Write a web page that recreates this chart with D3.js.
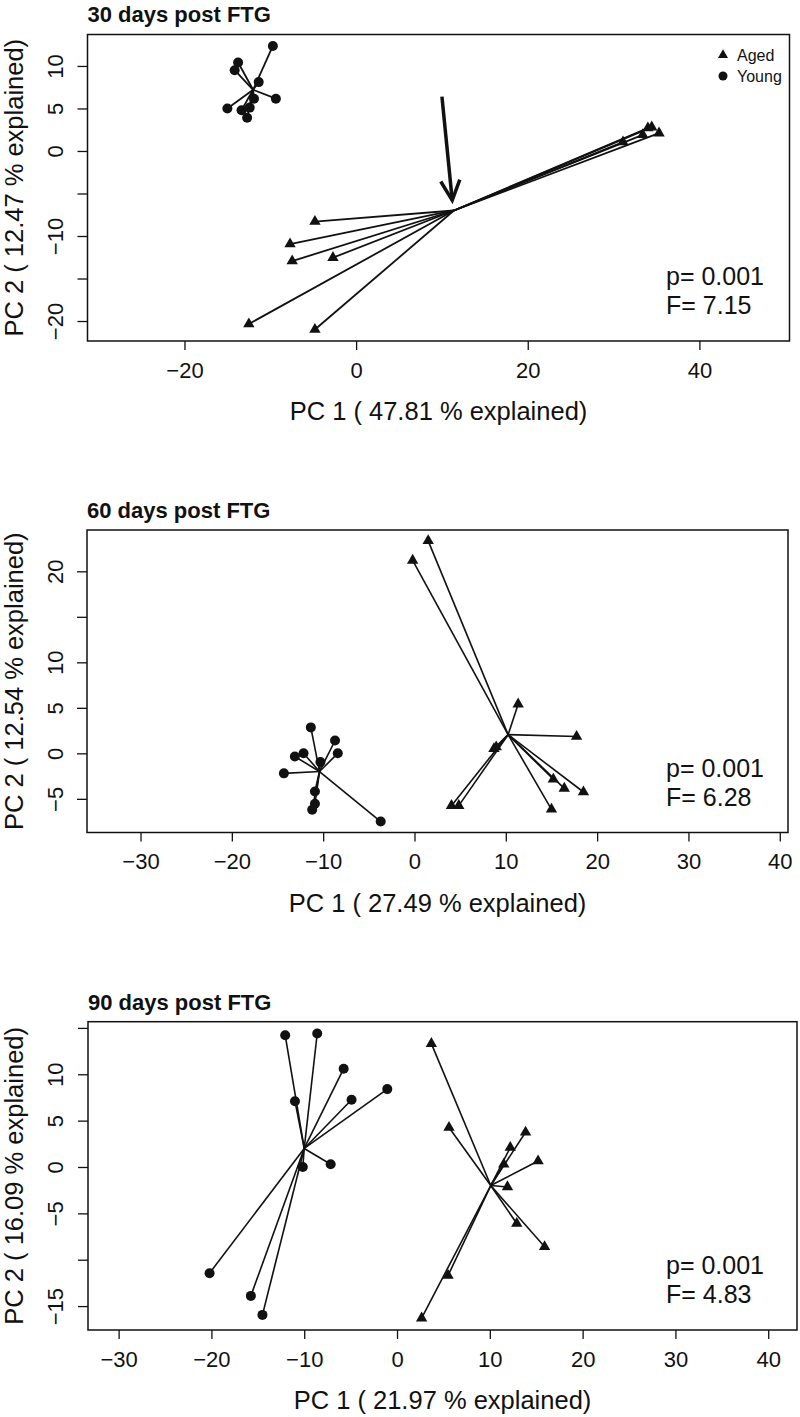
<!DOCTYPE html>
<html><head><meta charset="utf-8">
<script src="https://cdn.jsdelivr.net/npm/d3@7"></script>
<style>
body{margin:0;background:#fff}
svg{display:block}
text{font-family:"Liberation Sans",Arial,Helvetica,sans-serif;fill:#111}
</style>
</head><body>
<svg id="chart" width="800" height="1417"></svg>
<script>
// ---------- DATA ----------
const groups = ["Aged", "Young"];
const panelTitles = ["30 days post FTG", "60 days post FTG", "90 days post FTG"];
const xAxisTitles = ["PC 1 ( 47.81 % explained)", "PC 1 ( 27.49 % explained)", "PC 1 ( 21.97 % explained)"];
const yAxisTitles = ["PC 2 ( 12.47 % explained)", "PC 2 ( 12.54 % explained)", "PC 2 ( 16.09 % explained)"];
const pValues = ["0.001", "0.001", "0.001"];
const fValues = ["7.15", "6.28", "4.83"];

// 30 days
const aged30 = [[-4.8,-8.3],[-7.7,-10.95],[-7.45,-12.95],[-2.7,-12.55],[-12.5,-20.35],[-4.8,-21.0],
                [34.0,2.7],[34.45,2.8],[35.3,2.1],[33.4,1.9],[31.1,1.05]];
const young30 = [[-9.7,12.35],[-13.75,10.4],[-14.15,9.5],[-11.35,8.1],[-9.35,6.15],[-11.9,6.15],
                 [-15.0,5.0],[-13.35,4.8],[-12.4,5.1],[-12.7,3.9]];
const centroids30 = [[11.4,-7.0],[-12.0,7.2]];
const arrow30 = [[10.0,6.4],[11.2,-5.8]];

// 60 days
const aged60 = [[1.5,23.35],[-0.2,21.2],[11.35,5.4],[17.75,1.85],[8.7,0.5],[8.95,0.7],[15.2,-2.85],
                [16.4,-3.85],[18.5,-4.25],[15.0,-6.15],[4.05,-5.75],[4.85,-5.75]];
const young60 = [[-11.35,2.85],[-8.7,1.4],[-8.4,0.0],[-12.15,0.0],[-13.1,-0.35],[-10.3,-0.95],
                 [-14.3,-2.2],[-10.9,-4.2],[-10.9,-5.55],[-11.2,-6.2],[-3.7,-7.5]];
const centroids60 = [[10.25,2.05],[-10.4,-2.0]];

// 90 days
const aged90 = [[3.7,13.3],[5.6,4.25],[13.85,3.75],[12.2,2.1],[15.2,0.65],[11.5,0.3],[11.9,-2.15],
                [12.9,-6.1],[15.9,-8.6],[5.5,-11.7],[2.65,-16.3]];
const young90 = [[-12.05,14.2],[-8.6,14.4],[-5.75,10.6],[-1.05,8.4],[-4.9,7.25],[-11.0,7.1],
                 [-7.15,0.3],[-10.15,0.0],[-20.2,-11.45],[-15.75,-13.9],[-14.5,-15.95]];
const centroids90 = [[10.1,-2.0],[-10.0,2.0]];

// ticks
const xTicks30 = [-20, 0, 20, 40];
const xTicks60 = [-30, -20, -10, 0, 10, 20, 30, 40];
const xTicks90 = [-30, -20, -10, 0, 10, 20, 30, 40];
const yTicks30 = [-20, -15, -10, -5, 0, 5, 10];
const yLabels30 = [-20, -10, 0, 5, 10];
const yTicks60 = [-5, 0, 5, 10, 15, 20];
const yLabels60 = [-5, 0, 5, 10, 20];
const yTicks90 = [-15, -10, -5, 0, 5, 10, 15];
const yLabels90 = [-15, -5, 0, 5, 10];

// axis limits
const xLim30 = [-31.3, 50.5], yLim30 = [-22.35, 13.7];
const xLim60 = [-35.86, 40.9], yLim60 = [-8.7, 24.54];
const xLim90 = [-33.3, 43.1], yLim90 = [-17.58, 15.67];

// ---------- LAYOUT ----------
const panels = [
  {aged: aged30, young: young30, cent: centroids30, xl: xLim30, yl: yLim30, xt: xTicks30, yt: yTicks30, yLab: yLabels30,
   box: {l: 87.5, r: 789.5, t: 34.5, b: 341}, legend: true, arrow: arrow30, lw: 1.8},
  {aged: aged60, young: young60, cent: centroids60, xl: xLim60, yl: yLim60, xt: xTicks60, yt: yTicks60, yLab: yLabels60,
   box: {l: 87, r: 788, t: 530, b: 832.5}, legend: false, lw: 1.6},
  {aged: aged90, young: young90, cent: centroids90, xl: xLim90, yl: yLim90, xt: xTicks90, yt: yTicks90, yLab: yLabels90,
   box: {l: 88, r: 797, t: 1021.7, b: 1330}, legend: false, lw: 1.6}
];

const svg = d3.select("#chart");
svg.append("rect").attr("width", 800).attr("height", 1417).attr("fill", "#fff");

const fmt = v => (v < 0 ? "\u2212" + Math.abs(v) : String(v));
const triSym = d3.symbol().type(d3.symbolTriangle).size(56);
const TICK_FS = 22, LAB_FS = 25.5, TITLE_FS = 22, STAT_FS = 25;

panels.forEach((p, i) => {
  const b = p.box;
  const x = d3.scaleLinear().domain(p.xl).range([b.l, b.r]);
  const y = d3.scaleLinear().domain(p.yl).range([b.b, b.t]);
  const g = svg.append("g");

  // x axis
  const xa = g.append("g").attr("transform", `translate(0,${b.b})`)
    .call(d3.axisBottom(x).tickValues(p.xt).tickSize(9).tickPadding(0).tickFormat(fmt));
  xa.select(".domain").remove();
  xa.selectAll(".tick line").attr("stroke", "#111").attr("stroke-width", 1.3);
  xa.selectAll(".tick text").attr("font-size", TICK_FS).attr("fill", "#111")
    .attr("font-family", "Liberation Sans, Arial, sans-serif")
    .attr("y", 29).attr("dy", "0.36em");

  // y axis
  const ya = g.append("g").attr("transform", `translate(${b.l},0)`)
    .call(d3.axisLeft(y).tickValues(p.yt).tickSize(10).tickFormat(v => p.yLab.includes(v) ? fmt(v) : ""));
  ya.select(".domain").remove();
  ya.selectAll(".tick line").attr("stroke", "#111").attr("stroke-width", 1.3);
  ya.selectAll(".tick text").attr("font-size", TICK_FS).attr("fill", "#111")
    .attr("font-family", "Liberation Sans, Arial, sans-serif")
    .attr("x", null).attr("dy", null)
    .attr("text-anchor", "middle")
    .attr("transform", `translate(${55 + 0.36 * TICK_FS - b.l},0) rotate(-90)`);

  // box
  g.append("rect").attr("x", b.l).attr("y", b.t).attr("width", b.r - b.l).attr("height", b.b - b.t)
    .attr("fill", "none").attr("stroke", "#111").attr("stroke-width", 1.5);

  // titles
  g.append("text").attr("x", b.l).attr("y", b.t - 20 + 0.36 * TITLE_FS)
    .attr("font-size", TITLE_FS).attr("font-weight", "bold").text(panelTitles[i]);
  g.append("text").attr("x", (b.l + b.r) / 2).attr("y", b.b + 70 + 0.36 * LAB_FS)
    .attr("text-anchor", "middle").attr("font-size", LAB_FS).text(xAxisTitles[i]);
  g.append("text").attr("transform", `translate(${14 + 0.36 * LAB_FS},${(b.t + b.b) / 2}) rotate(-90)`)
    .attr("text-anchor", "middle").attr("font-size", LAB_FS).text(yAxisTitles[i]);

  // spider segments
  const sets = [[p.aged, p.cent[0]], [p.young, p.cent[1]]];
  sets.forEach(([pts, c]) => {
    g.append("g").selectAll("line").data(pts).join("line")
      .attr("x1", x(c[0])).attr("y1", y(c[1]))
      .attr("x2", d => x(d[0])).attr("y2", d => y(d[1]))
      .attr("stroke", "#111").attr("stroke-width", p.lw);
  });

  // points
  g.append("g").selectAll("path").data(p.aged).join("path")
    .attr("d", triSym).attr("transform", d => `translate(${x(d[0])},${y(d[1])})`).attr("fill", "#111");
  g.append("g").selectAll("circle").data(p.young).join("circle")
    .attr("cx", d => x(d[0])).attr("cy", d => y(d[1])).attr("r", 5).attr("fill", "#111");

  // stats
  g.append("text").attr("x", 666).attr("y", b.b - 65 + 0.36 * STAT_FS)
    .attr("font-size", STAT_FS).text("p= " + pValues[i]);
  g.append("text").attr("x", 666).attr("y", b.b - 36 + 0.36 * STAT_FS)
    .attr("font-size", STAT_FS).text("F= " + fValues[i]);

  // arrow annotation
  if (p.arrow) {
    const [s, e] = p.arrow;
    const x1 = x(s[0]), y1 = y(s[1]), x2 = x(e[0]), y2 = y(e[1]);
    const ang = Math.atan2(y2 - y1, x2 - x1);
    const hl = 22, ha = 0.45;
    g.append("line").attr("x1", x1).attr("y1", y1).attr("x2", x2).attr("y2", y2)
      .attr("stroke", "#111").attr("stroke-width", 3.5);
    g.append("path")
      .attr("d", `M${x2 - hl * Math.cos(ang - ha)},${y2 - hl * Math.sin(ang - ha)}L${x2},${y2}L${x2 - hl * Math.cos(ang + ha)},${y2 - hl * Math.sin(ang + ha)}`)
      .attr("fill", "none").attr("stroke", "#111").attr("stroke-width", 3.5).attr("stroke-linejoin", "miter");
  }

  // legend
  if (p.legend) {
    const lg = g.append("g");
    lg.append("path").attr("d", d3.symbol().type(d3.symbolTriangle).size(44))
      .attr("transform", "translate(723,55)").attr("fill", "#111");
    lg.append("circle").attr("cx", 723).attr("cy", 76).attr("r", 4.5).attr("fill", "#111");
    lg.append("text").attr("x", 737).attr("y", 55 + 0.36 * 16).attr("font-size", 16).text(groups[0]);
    lg.append("text").attr("x", 737).attr("y", 76 + 0.36 * 16).attr("font-size", 16).text(groups[1]);
  }
});
</script>
</body></html>
